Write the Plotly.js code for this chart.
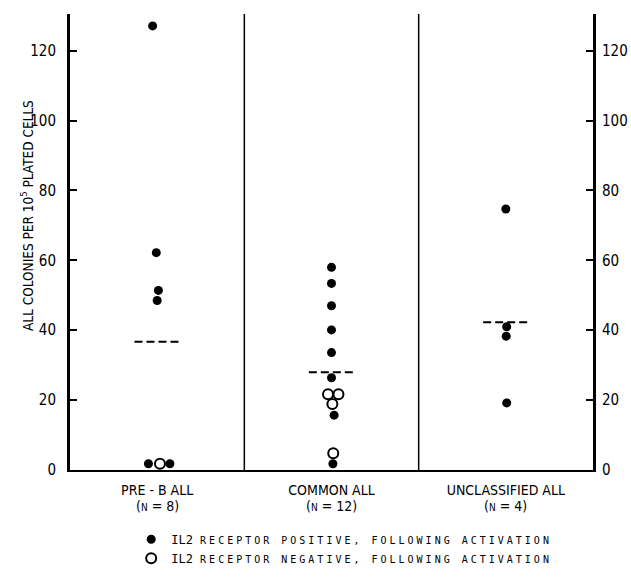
<!DOCTYPE html>
<html>
<head>
<meta charset="utf-8">
<script src="https://cdn.plot.ly/plotly-3.0.1.min.js"></script>
<style>html,body{margin:0;padding:0;background:#fff;}</style>
</head>
<body>
<div id="chart" style="width:631px;height:581px;"></div>
<script>
// Categories and labels
const categories = ['PRE - B ALL', 'COMMON ALL', 'UNCLASSIFIED ALL'];
const nCounts = [8, 12, 4];
const yTicks = [0, 20, 40, 60, 80, 100, 120];

// IL2 receptor positive (filled) points: category index, small horizontal jitter, value
const posCat    = [0, 0, 0, 0, 0, 0,   1, 1, 1, 1, 1, 1, 1, 1,   2, 2, 2, 2];
const posJitter = [-0.026, -0.005, 0.007, 0, -0.05, 0.073,   0, 0, 0, 0, 0, 0, 0.015, 0.008,   0, 0.005, 0.002, 0.005];
const posVal    = [127.1, 62.2, 51.4, 48.5, 1.8, 1.8,   58.0, 53.4, 47.0, 40.1, 33.6, 26.4, 15.7, 1.8,   74.7, 41.0, 38.3, 19.2];

// IL2 receptor negative (open) points
const negCat    = [0,   1, 1, 1, 1];
const negJitter = [0.016,   -0.02, 0.04, 0.005, 0.01];
const negVal    = [1.8,   21.7, 21.7, 18.9, 4.8];

// Group means (dashed lines)
const meanVal = [36.7, 28.0, 42.3];

const FONT = "'Liberation Sans Narrow', 'DejaVu Sans Condensed', 'Arial Narrow', sans-serif";
const MONO = "'DejaVu Sans Mono', 'Liberation Mono', monospace";

const xs = (cats, jit) => cats.map((c, i) => c + jit[i]);

const meanX = [], meanY = [];
meanVal.forEach((m, i) => { meanX.push(i - 0.13, i + 0.13, null); meanY.push(m, m, null); });

const smallCaps = t => "<span style='font-size:10px;letter-spacing:3px'>" + t + "</span>";

const traces = [
  {
    x: xs(posCat, posJitter), y: posVal, type: 'scatter', mode: 'markers',
    name: "IL2 " + smallCaps('RECEPTOR POSITIVE, FOLLOWING ACTIVATION'),
    marker: {color: '#000', size: 9, symbol: 'circle'}, cliponaxis: false
  },
  {
    x: xs(negCat, negJitter), y: negVal, type: 'scatter', mode: 'markers',
    name: "IL2 " + smallCaps('RECEPTOR NEGATIVE, FOLLOWING ACTIVATION'),
    marker: {color: '#fff', size: 10, symbol: 'circle', line: {color: '#000', width: 2}}, cliponaxis: false
  },
  {
    x: meanX, y: meanY, type: 'scatter', mode: 'lines', yaxis: 'y2',
    line: {color: '#000', width: 2, dash: '8px,4px'}, showlegend: false, hoverinfo: 'skip'
  }
];

const nAnnotations = nCounts.map((n, i) => ({
  text: "(<span style='font-size:10px'>N</span> = " + n + ")",
  xref: 'x', yref: 'paper', x: i, y: 0, yshift: -27, xanchor: 'center', yanchor: 'top',
  showarrow: false, font: {size: 14, family: FONT}, borderpad: 0
}));

const layout = {
  width: 631, height: 581,
  margin: {l: 70, r: 38, t: 14, b: 111, autoexpand: false},
  paper_bgcolor: '#fff', plot_bgcolor: '#fff',
  font: {family: FONT, color: '#000', size: 16},
  showlegend: true,
  legend: {x: 0.117, xanchor: 'left', y: -0.12, yanchor: 'top', font: {size: 12, family: MONO},
           bgcolor: 'rgba(0,0,0,0)', itemwidth: 30, tracegroupgap: 0},
  xaxis: {
    range: [-0.5, 2.5], tickvals: [0, 1, 2], ticktext: categories,
    showline: true, linecolor: '#000', linewidth: 2, ticks: '', showgrid: false, zeroline: false,
    tickfont: {size: 14}, ticklabelstandoff: 6
  },
  yaxis: {
    range: [0, 130.5], tickvals: yTicks, ticks: 'inside', ticklen: 7, tickwidth: 2, tickcolor: '#000',
    showline: true, linecolor: '#000', linewidth: 3, showgrid: false, zeroline: false,
    tickfont: {size: 15}, ticklabelstandoff: 8
  },
  yaxis2: {
    overlaying: 'y', side: 'right', matches: 'y', range: [0, 130.5], tickvals: yTicks,
    ticks: 'inside', ticklen: 7, tickwidth: 2, tickcolor: '#000',
    showline: true, linecolor: '#000', linewidth: 3, showgrid: false, zeroline: false,
    tickfont: {size: 15}, ticklabelstandoff: 3
  },
  shapes: [0.5, 1.5].map(v => ({type: 'line', xref: 'x', yref: 'paper', x0: v, x1: v, y0: 0, y1: 1,
                                 line: {color: '#000', width: 1.5}})),
  annotations: [{
    text: 'ALL COLONIES PER 10<sup>5</sup> PLATED CELLS', textangle: -90,
    xref: 'paper', yref: 'paper', x: 0, y: 0.557, xanchor: 'center', yanchor: 'middle',
    xshift: -43, showarrow: false, font: {size: 13.5, family: FONT}
  }].concat(nAnnotations)
};

Plotly.newPlot('chart', traces, layout, {displayModeBar: false, staticPlot: true});
</script>
</body>
</html>
